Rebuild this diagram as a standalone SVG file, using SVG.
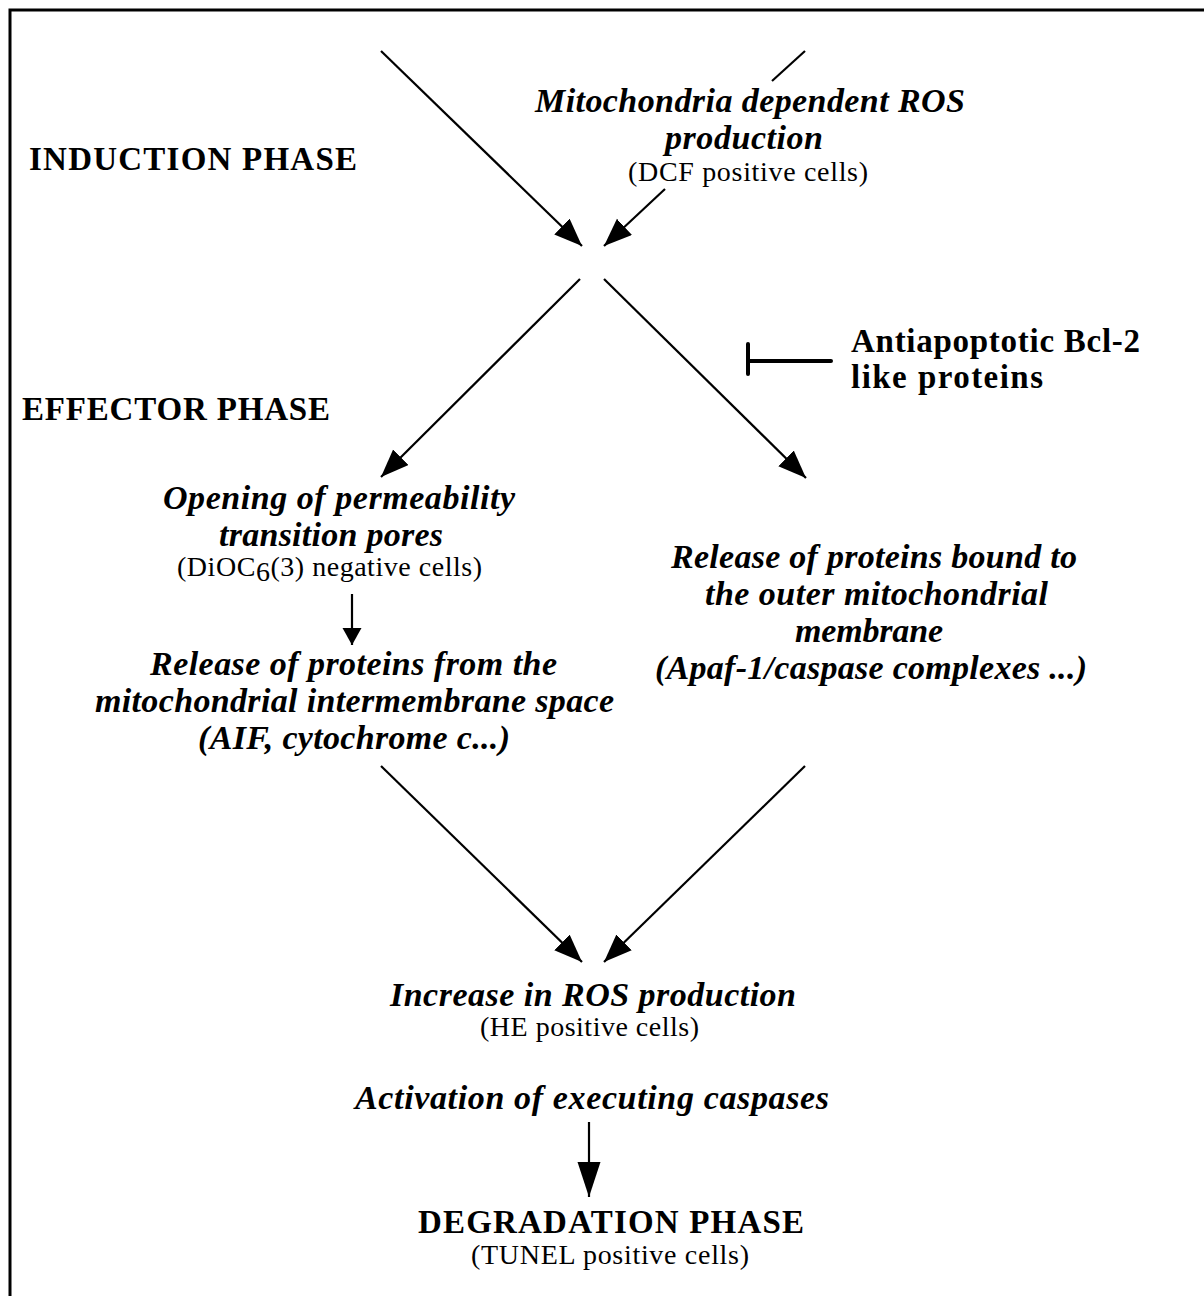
<svg xmlns="http://www.w3.org/2000/svg" width="1204" height="1296" viewBox="0 0 1204 1296">
<style>
.bi{font-family:"Liberation Serif","Times New Roman",serif;font-weight:bold;font-style:italic;font-size:34px;fill:#000}
.b{font-family:"Liberation Serif","Times New Roman",serif;font-weight:bold;font-size:33px;fill:#000}
.r{font-family:"Liberation Serif","Times New Roman",serif;font-size:28px;fill:#000}
.ln{stroke:#000;stroke-width:2.2;fill:none}
</style>
<defs>
<marker id="ah" markerUnits="userSpaceOnUse" markerWidth="30" markerHeight="24" refX="28" refY="11" orient="auto"><path d="M0,0 L28,11 L0,22 z" fill="#000"/></marker>
<marker id="ahs" markerUnits="userSpaceOnUse" markerWidth="19" markerHeight="20" refX="17" refY="9.5" orient="auto"><path d="M0,0 L17,9.5 L0,19 z" fill="#000"/></marker>
<marker id="ahb" markerUnits="userSpaceOnUse" markerWidth="37" markerHeight="24" refX="35" refY="11.5" orient="auto"><path d="M0,0 L35,11.5 L0,23 z" fill="#000"/></marker>
</defs>
<rect width="1204" height="1296" fill="#fff"/>
<path d="M10,1296 V10 H1204" stroke="#000" stroke-width="3" fill="none"/>

<g id="connectors">
<line class="ln" x1="381" y1="51" x2="582" y2="246" marker-end="url(#ah)"/>
<line class="ln" x1="805" y1="51" x2="772" y2="81"/>
<line class="ln" x1="665" y1="189" x2="604" y2="246" marker-end="url(#ah)"/>
<line class="ln" x1="580" y1="279" x2="381" y2="477" marker-end="url(#ah)"/>
<line class="ln" x1="604" y1="279" x2="806" y2="478" marker-end="url(#ah)"/>
<line class="ln" x1="352" y1="594" x2="352" y2="645" marker-end="url(#ahs)"/>
<line class="ln" x1="381" y1="766" x2="582" y2="962" marker-end="url(#ah)"/>
<line class="ln" x1="805" y1="766" x2="604" y2="962" marker-end="url(#ah)"/>
<line class="ln" x1="589" y1="1122" x2="589" y2="1197" marker-end="url(#ahb)"/>
<g id="inhibitor" stroke="#000" stroke-width="4" stroke-linecap="round">
<line x1="748" y1="361" x2="831" y2="361"/>
<line x1="748" y1="344" x2="748" y2="374"/>
</g>
</g>

<g id="induction-label"><text class="b" x="29" y="170" textLength="328" lengthAdjust="spacing">INDUCTION PHASE</text></g>
<g id="effector-label"><text class="b" x="22" y="420" textLength="308" lengthAdjust="spacing">EFFECTOR PHASE</text></g>

<g id="ros-mito">
<text class="bi" x="535" y="112" textLength="430" lengthAdjust="spacing">Mitochondria dependent ROS</text>
<text class="bi" x="665" y="149" textLength="158" lengthAdjust="spacing">production</text>
<text class="r" x="628" y="181" textLength="240" lengthAdjust="spacing">(DCF  positive cells)</text>
</g>

<g id="antiapoptotic">
<text class="b" x="851" y="352" textLength="289" lengthAdjust="spacing">Antiapoptotic Bcl-2</text>
<text class="b" x="851" y="388" textLength="192" lengthAdjust="spacing">like proteins</text>
</g>

<g id="ptp">
<text class="bi" x="163" y="509" textLength="352" lengthAdjust="spacing">Opening of permeability</text>
<text class="bi" x="219" y="546" textLength="224" lengthAdjust="spacing">transition pores</text>
<text class="r" x="177" y="576" textLength="305" lengthAdjust="spacing">(DiOC<tspan dy="5">6</tspan><tspan dy="-5">(3)  negative cells)</tspan></text>
</g>

<g id="intermembrane">
<text class="bi" x="150" y="675" textLength="407" lengthAdjust="spacing">Release of proteins from  the</text>
<text class="bi" x="95" y="712" textLength="519" lengthAdjust="spacing">mitochondrial intermembrane space</text>
<text class="bi" x="198" y="749" textLength="312" lengthAdjust="spacing">(AIF, cytochrome c...)</text>
</g>

<g id="outer-membrane">
<text class="bi" x="671" y="568" textLength="406" lengthAdjust="spacing">Release of proteins bound to</text>
<text class="bi" x="705" y="605" textLength="343" lengthAdjust="spacing">the outer mitochondrial</text>
<text class="bi" x="795" y="642" textLength="148" lengthAdjust="spacing">membrane</text>
<text class="bi" x="655" y="679" textLength="432" lengthAdjust="spacing">(Apaf-1/caspase complexes ...)</text>
</g>

<g id="ros-increase">
<text class="bi" x="390" y="1006" textLength="406" lengthAdjust="spacing">Increase in ROS production</text>
<text class="r" x="480" y="1036" textLength="219" lengthAdjust="spacing">(HE positive cells)</text>
</g>

<g id="caspases">
<text class="bi" x="355" y="1109" textLength="474" lengthAdjust="spacing">Activation of  executing caspases</text>
</g>

<g id="degradation">
<text class="b" x="418" y="1233" textLength="386" lengthAdjust="spacing">DEGRADATION PHASE</text>
<text class="r" x="471" y="1264" textLength="278" lengthAdjust="spacing">(TUNEL positive cells)</text>
</g>
</svg>
